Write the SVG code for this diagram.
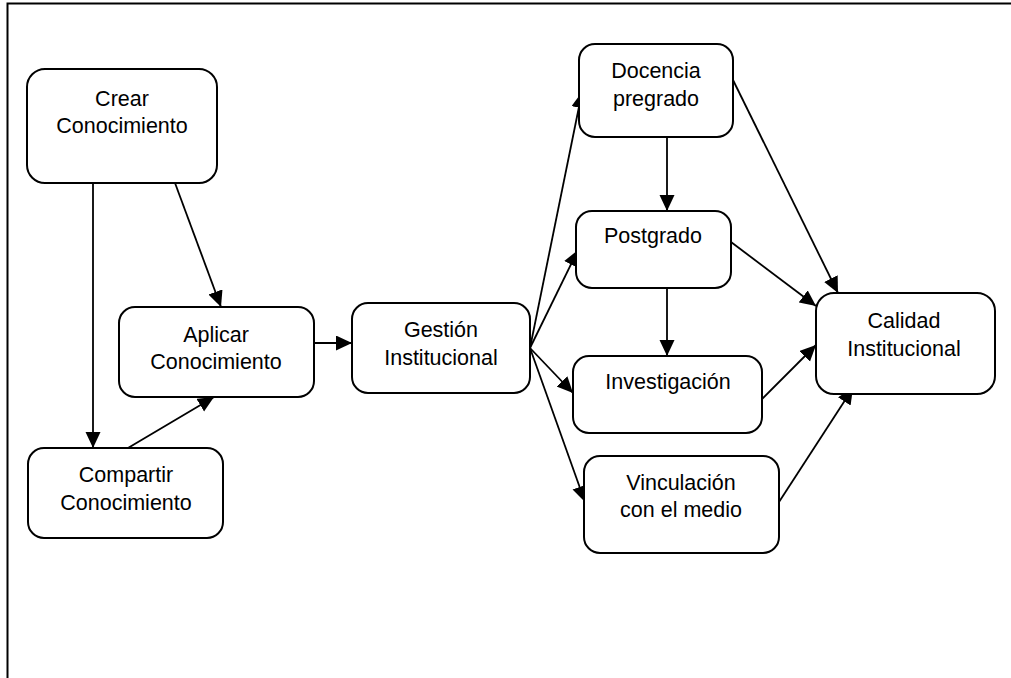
<svg xmlns="http://www.w3.org/2000/svg" width="1011" height="678" viewBox="0 0 1011 678">
  <style>
    .box { fill: #ffffff; stroke: #000000; stroke-width: 2; }
    .lbl { font-family: "Liberation Sans", Arial, sans-serif; font-size: 21.5px; fill: #000000; text-anchor: middle; }
    .edge { fill: none; stroke: #000000; stroke-width: 1.8; marker-end: url(#arrow); }
    .frame { fill: none; stroke: #000000; stroke-width: 2; }
  </style>
  <defs>
    <marker id="arrow" markerUnits="userSpaceOnUse" markerWidth="18" markerHeight="16" refX="16" refY="7.5" orient="auto">
      <path d="M0,0 L16,7.5 L0,15 z" fill="#000000"/>
    </marker>
  </defs>

  <rect width="1011" height="678" fill="#ffffff"/>

  <!-- page frame: top and left edges -->
  <path class="frame" d="M7.5,678 L7.5,3.5 L1011,3.5"/>

  <g id="connectors">
    <line class="edge" x1="93" y1="183" x2="93" y2="448"/>
    <line class="edge" x1="175" y1="183" x2="221" y2="307"/>
    <line class="edge" x1="128" y1="448" x2="214" y2="397"/>
    <line class="edge" x1="314" y1="343" x2="352" y2="343"/>
    <line class="edge" x1="530" y1="348" x2="582" y2="92"/>
    <line class="edge" x1="530" y1="348" x2="578" y2="250"/>
    <line class="edge" x1="530" y1="348" x2="573" y2="393"/>
    <line class="edge" x1="530" y1="348" x2="585" y2="502"/>
    <line class="edge" x1="667" y1="137" x2="667" y2="211"/>
    <line class="edge" x1="667" y1="288" x2="667" y2="356"/>
    <line class="edge" x1="733" y1="80" x2="838" y2="293"/>
    <line class="edge" x1="731" y1="242" x2="816" y2="306"/>
    <line class="edge" x1="762" y1="399" x2="816" y2="345"/>
    <line class="edge" x1="779" y1="502" x2="853" y2="388"/>
  </g>

  <g id="crear">
    <rect class="box" x="27" y="69" width="190" height="114" rx="18"/>
    <text class="lbl" x="122" y="106">Crear</text>
    <text class="lbl" x="122" y="133">Conocimiento</text>
  </g>

  <g id="aplicar">
    <rect class="box" x="119" y="307" width="195" height="90" rx="16"/>
    <text class="lbl" x="216" y="342">Aplicar</text>
    <text class="lbl" x="216" y="369">Conocimiento</text>
  </g>

  <g id="compartir">
    <rect class="box" x="28" y="448" width="195" height="90" rx="16"/>
    <text class="lbl" x="126" y="482">Compartir</text>
    <text class="lbl" x="126" y="510">Conocimiento</text>
  </g>

  <g id="gestion">
    <rect class="box" x="352" y="303" width="178" height="90" rx="16"/>
    <text class="lbl" x="441" y="337">Gestión</text>
    <text class="lbl" x="441" y="365">Institucional</text>
  </g>

  <g id="docencia">
    <rect class="box" x="579" y="44" width="154" height="93" rx="16"/>
    <text class="lbl" x="656" y="78">Docencia</text>
    <text class="lbl" x="656" y="106">pregrado</text>
  </g>

  <g id="postgrado">
    <rect class="box" x="576" y="211" width="155" height="77" rx="16"/>
    <text class="lbl" x="653" y="243">Postgrado</text>
  </g>

  <g id="investigacion">
    <rect class="box" x="573" y="356" width="189" height="77" rx="16"/>
    <text class="lbl" x="668" y="389">Investigación</text>
  </g>

  <g id="vinculacion">
    <rect class="box" x="584" y="456" width="195" height="97" rx="16"/>
    <text class="lbl" x="681" y="490">Vinculación</text>
    <text class="lbl" x="681" y="517">con el medio</text>
  </g>

  <g id="calidad">
    <rect class="box" x="816" y="293" width="179" height="101" rx="18"/>
    <text class="lbl" x="904" y="328">Calidad</text>
    <text class="lbl" x="904" y="356">Institucional</text>
  </g>
</svg>
